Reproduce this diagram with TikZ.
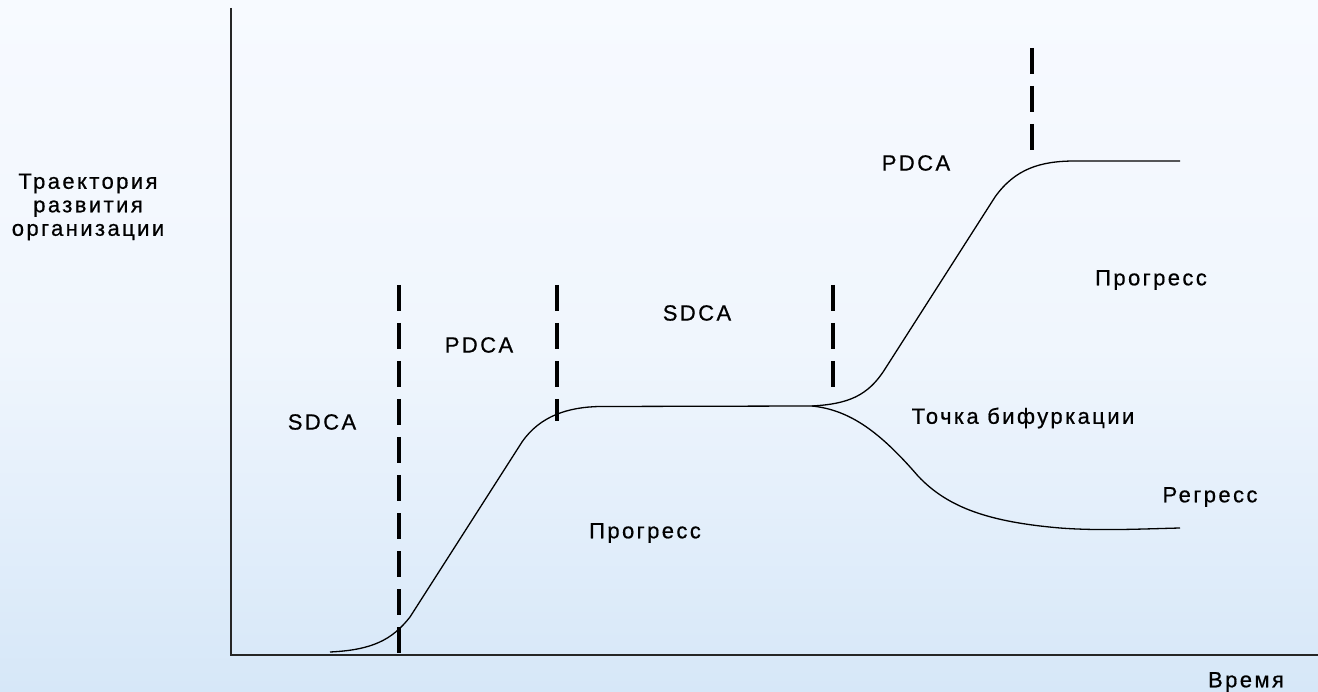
\documentclass[tikz,border=0pt]{standalone}
\usepackage{fontspec}
\setmainfont{Liberation Sans}
\newfontfamily\lbl[LetterSpace=11, FakeBold=0.6]{Liberation Sans}
\begin{document}
\begin{tikzpicture}[x=1pt,y=-1pt,
  lab/.style={font=\lbl\fontsize{22}{23.5}\selectfont, text=black, inner sep=0pt, align=center},
  phase/.style={line width=3.4pt, dash pattern=on 26pt off 12pt, black},
  curve/.style={line width=1.3pt, black},
  axis/.style={line width=1.4pt, black!85}]
\useasboundingbox (0,0) rectangle (1318,692);
\shade[top color={rgb,255:red,247;green,250;blue,255}, bottom color={rgb,255:red,214;green,231;blue,248}, middle color={rgb,255:red,240;green,246;blue,253}] (0,0) rectangle (1318,692);

% axes
\coordinate (O) at (231,655);
\coordinate (ytop) at (231,8);
\coordinate (xend) at (1318,655);
\draw[axis] (ytop) -- (O) -- (xend);

% phase separators
\coordinate (d1a) at (399,285); \coordinate (d1b) at (399,659);
\coordinate (d2a) at (557,285); \coordinate (d2b) at (557,421);
\coordinate (d3a) at (833,285); \coordinate (d3b) at (833,389);
\coordinate (d4a) at (1032,48);  \coordinate (d4b) at (1032,152);
\draw[phase] (d1a) -- (d1b);
\draw[phase] (d2a) -- (d2b);
\draw[phase] (d3a) -- (d3b);
\draw[phase] (d4a) -- (d4b);

% trajectory
\coordinate (s0) at (330,652);
\coordinate (bif) at (812,406);
\draw[curve] (s0) .. controls (372,650) and (392,640) .. (410,617)
  -- (522,442) .. controls (540,416) and (568,407) .. (600,406.5) -- (bif);
\draw[curve] (bif) .. controls (848,404) and (868,396) .. (885,369)
  -- (995,197) .. controls (1015,169) and (1040,161) .. (1075,161) -- (1180,161);
\draw[curve] (bif) .. controls (850,410) and (880,432) .. (918,476)
  .. controls (948,508) and (990,522) .. (1060,528)
  .. controls (1100,531) and (1140,529) .. (1180,528);

% labels
\node[lab] (yl) at (88,207) {Траектория\\развития\\организации};
\node[lab] (xl) at (1246,682) {Время};
\node[lab] (sd1) at (322,422) {SDCA};
\node[lab] (pd1) at (479,345) {PDCA};
\node[lab] (sd2) at (697,313) {SDCA};
\node[lab] (pd2) at (916,163) {PDCA};
\node[lab] (pr1) at (1151,280) {Прогресс};
\node[lab] (pr2) at (645,533) {Прогресс};
\node[lab] (tb) at (1023,418) {Точка бифуркации};
\node[lab] (rg) at (1210,497) {Регресс};
\end{tikzpicture}
\end{document}
